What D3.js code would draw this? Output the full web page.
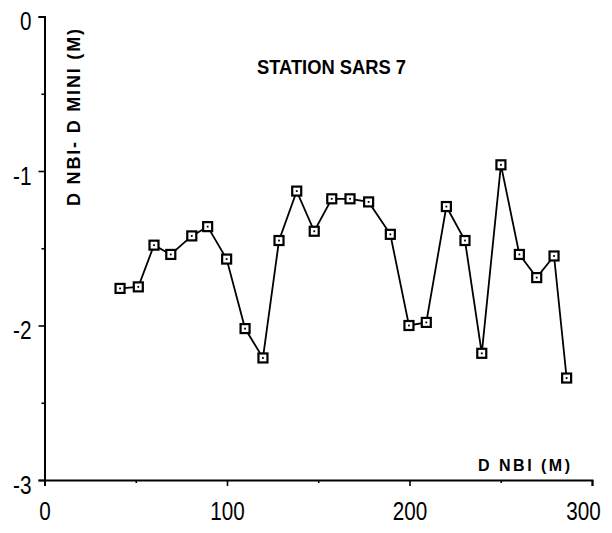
<!DOCTYPE html>
<html>
<head>
<meta charset="utf-8">
<script src="https://cdn.jsdelivr.net/npm/d3@7"></script>
<style>
  html, body { margin: 0; padding: 0; background: #fff; }
  svg { display: block; }
</style>
</head>
<body>
<svg id="chart" width="612" height="533"></svg>
<script>
// ---- data ----
const title = "STATION SARS 7";
const xLabel = "D NBI (M)";
const yLabel = "D NBI- D MINI (M)";
const xValues = [41.4, 51.4, 60.0, 69.2, 80.7, 89.4, 99.8, 109.9, 119.7, 128.5, 138.2, 147.8, 157.4,
                 167.4, 177.6, 189.5, 199.7, 209.2, 220.2, 230.4, 239.6, 250.1, 260.2, 269.7, 279.2, 286.1];
const yValues = [-1.76, -1.75, -1.48, -1.54, -1.42, -1.36, -1.57, -2.02, -2.21, -1.45, -1.13, -1.39, -1.18,
                 -1.18, -1.20, -1.41, -2.00, -1.98, -1.23, -1.45, -2.18, -0.96, -1.54, -1.69, -1.55, -2.34];
const xTicks = [0, 100, 200, 300];
const xMinorTicks = [50, 150, 250];
const yTicks = [0, -1, -2, -3];
const yMinorTicks = [-0.5, -1.5, -2.5];

const points = xValues.map((x, i) => ({ x, y: yValues[i] }));

// ---- layout ----
const svg = d3.select("#chart");
const x = d3.scaleLinear().domain([0, 300]).range([44.5, 592]);
const y = d3.scaleLinear().domain([-3, 0]).range([480, 16.5]);
const fmt = d => String(d);

const tickFont = "'Liberation Sans', Arial, sans-serif";
const boldFont = "'Liberation Sans', Arial, sans-serif";

// y axis
const gy = svg.append("g").attr("transform", `translate(${x(0)},0)`)
  .call(d3.axisLeft(y).tickValues(yTicks).tickSize(6).tickPadding(7).tickFormat(fmt));
svg.append("g").attr("transform", `translate(${x(0)},0)`)
  .call(d3.axisLeft(y).tickValues(yMinorTicks).tickSize(3).tickFormat(""))
  .call(g => g.select(".domain").remove());

// x axis
const gx = svg.append("g").attr("transform", `translate(0,${y(-3)})`)
  .call(d3.axisBottom(x).tickValues(xTicks).tickSize(6).tickPadding(16).tickFormat(fmt));
svg.append("g").attr("transform", `translate(0,${y(-3)})`)
  .call(d3.axisBottom(x).tickValues(xMinorTicks).tickSize(3).tickFormat(""))
  .call(g => g.select(".domain").remove());

svg.selectAll(".domain").attr("stroke", "#000").attr("stroke-width", 2);
svg.selectAll(".tick line").attr("stroke", "#000").attr("stroke-width", 1.6);
const narrowLen = s => s.split("").reduce((a, c) => a + (c === "-" ? 7 : 11.5), 0);
svg.selectAll(".tick text").attr("fill", "#000")
  .style("font-family", tickFont).style("font-size", "26px")
  .attr("textLength", function() { return narrowLen(d3.select(this).text()); })
  .attr("lengthAdjust", "spacingAndGlyphs");
gy.selectAll(".tick text").attr("dy", "0.5em");
// keep the last x label inside the page
gx.selectAll(".tick text").filter(d => d === 300).attr("x", -9);

// title
svg.append("text")
  .attr("x", 257).attr("y", 74)
  .attr("textLength", 149).attr("lengthAdjust", "spacingAndGlyphs")
  .style("font-family", boldFont).style("font-weight", "bold").style("font-size", "21px")
  .text(title);

// x label
svg.append("text")
  .attr("x", 478).attr("y", 471)
  .attr("textLength", 92).attr("lengthAdjust", "spacing")
  .style("font-family", boldFont).style("font-weight", "bold").style("font-size", "16px")
  .text(xLabel);

// y label (rotated)
svg.append("text")
  .attr("transform", "translate(80,206) rotate(-90)")
  .attr("x", 0).attr("y", 0)
  .attr("textLength", 177).attr("lengthAdjust", "spacing")
  .style("font-family", boldFont).style("font-weight", "bold").style("font-size", "18px")
  .text(yLabel);

// line
const line = d3.line().x(d => x(d.x)).y(d => y(d.y));
svg.append("path").datum(points)
  .attr("d", line)
  .attr("fill", "none").attr("stroke", "#000").attr("stroke-width", 1.8);

// markers
const mk = svg.append("g").selectAll("g").data(points).join("g")
  .attr("transform", d => `translate(${x(d.x)},${y(d.y)})`);
mk.append("rect").attr("x", -4.5).attr("y", -4.5).attr("width", 9).attr("height", 9)
  .attr("fill", "#fff").attr("stroke", "#000").attr("stroke-width", 2.2);
mk.append("rect").attr("x", -0.9).attr("y", -0.9).attr("width", 1.8).attr("height", 1.8)
  .attr("fill", "#000");
</script>
</body>
</html>
